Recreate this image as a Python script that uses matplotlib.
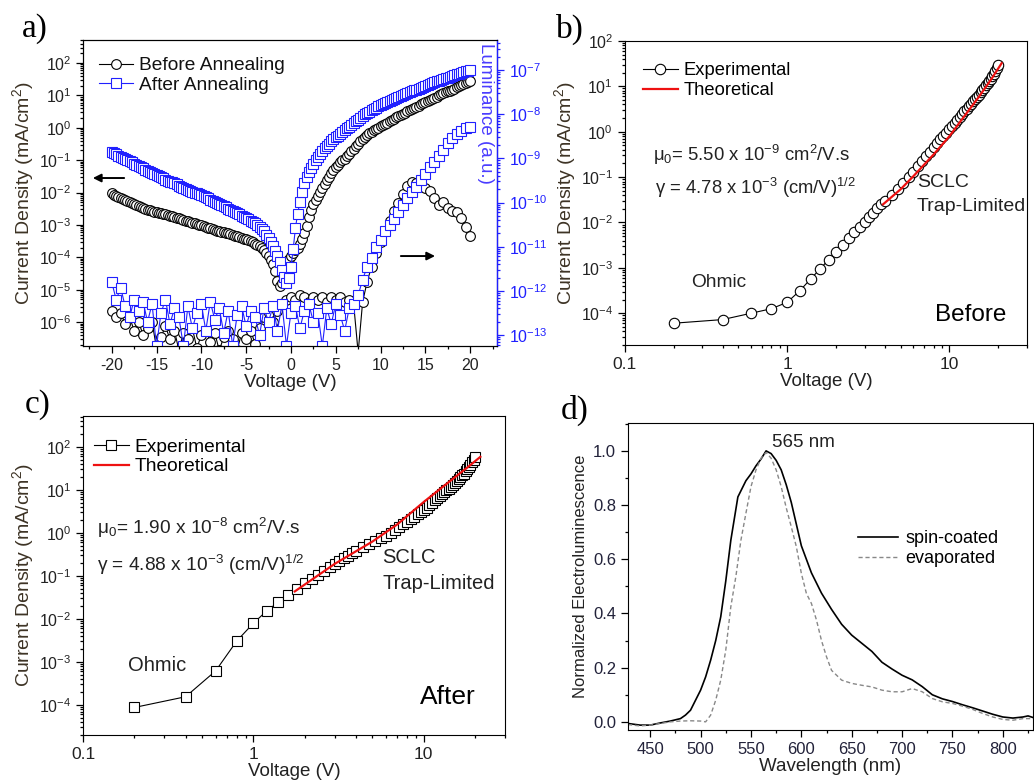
import numpy as np
import matplotlib
matplotlib.use('Agg')
import matplotlib.pyplot as plt
from matplotlib.ticker import LogLocator, MultipleLocator, NullFormatter

plt.rcParams['font.family'] = ['Liberation Sans', 'DejaVu Sans']
plt.rcParams['mathtext.fontset'] = 'custom'
plt.rcParams['mathtext.rm'] = 'Liberation Sans'
plt.rcParams['mathtext.it'] = 'Liberation Sans:italic'
plt.rcParams['mathtext.bf'] = 'Liberation Sans:bold'
plt.rcParams['axes.unicode_minus'] = False

BLUE = '#2020ff'
TXT = '#222222'
YLAB = '#3d3325'

# ---------------- panel a data (log10 values) ----------------
V_aJ = np.linspace(-20, 20, 161)
logJ_before = [-2.03, -2.07, -2.10, -2.14, -2.17, -2.20, -2.23, -2.26, -2.29, -2.32,
               -2.35, -2.38, -2.41, -2.44, -2.47, -2.50, -2.53, -2.55, -2.57, -2.59, -2.61,
               -2.63, -2.64, -2.66, -2.67, -2.69, -2.71, -2.73, -2.75, -2.78, -2.80,
               -2.82, -2.84, -2.87, -2.89, -2.91, -2.93, -2.95, -2.97, -2.99, -3.01,
               -3.04, -3.06, -3.09, -3.11, -3.14, -3.16, -3.18, -3.19, -3.21, -3.22,
               -3.24, -3.26, -3.28, -3.30, -3.33, -3.35, -3.38, -3.40, -3.43, -3.45,
               -3.48, -3.51, -3.54, -3.58, -3.62, -3.66, -3.72, -3.79, -3.87, -3.97,
               -4.07, -4.20, -4.42, -4.72, -4.88, -4.80, -4.45, -4.20, -4.05, -3.95,
               -3.86, -3.78, -3.70, -3.60, -3.45, -3.25, -3.02, -2.75, -2.53, -2.35,
               -2.22, -2.10, -1.97, -1.85, -1.73, -1.62, -1.51, -1.40, -1.31, -1.22,
               -1.14, -1.07, -1.01, -0.95, -0.88, -0.80, -0.72, -0.65, -0.57, -0.50,
               -0.42, -0.35, -0.28, -0.22, -0.17, -0.12, -0.08, -0.04, 0.00, 0.04,
               0.08, 0.12, 0.16, 0.20, 0.24, 0.28, 0.32, 0.36, 0.40, 0.44,
               0.47, 0.51, 0.54, 0.58, 0.61, 0.65, 0.68, 0.72, 0.75, 0.79,
               0.82, 0.86, 0.89, 0.93, 0.96, 1.00, 1.03, 1.06, 1.09, 1.12,
               1.15, 1.18, 1.21, 1.25, 1.28, 1.32, 1.35, 1.39, 1.42, 1.45]
logJ_after = [-0.74, -0.78, -0.82, -0.86, -0.90, -0.93, -0.97, -1.00, -1.04, -1.07,
              -1.11, -1.14, -1.18, -1.21, -1.25, -1.29, -1.33, -1.36, -1.40, -1.43, -1.47,
              -1.50, -1.53, -1.56, -1.60, -1.63, -1.66, -1.69, -1.72, -1.75, -1.79,
              -1.82, -1.85, -1.88, -1.91, -1.94, -1.97, -2.00, -2.03, -2.06, -2.09,
              -2.12, -2.15, -2.18, -2.22, -2.25, -2.29, -2.32, -2.36, -2.39, -2.43,
              -2.46, -2.50, -2.53, -2.57, -2.60, -2.64, -2.67, -2.71, -2.75, -2.79,
              -2.83, -2.87, -2.91, -2.95, -3.00, -3.05, -3.12, -3.20, -3.30, -3.40,
              -3.52, -3.65, -3.80, -3.95, -4.15, -4.40, -4.62, -4.80, -4.65, -4.30,
              -3.75, -3.10, -2.65, -2.30, -1.98, -1.72, -1.53, -1.38, -1.24, -1.12,
              -1.01, -0.90, -0.81, -0.72, -0.64, -0.56, -0.49, -0.42, -0.36, -0.30,
              -0.24, -0.18, -0.13, -0.08, -0.02, 0.03, 0.09, 0.14, 0.20, 0.25,
              0.31, 0.36, 0.41, 0.45, 0.50, 0.54, 0.58, 0.62, 0.66, 0.69,
              0.73, 0.76, 0.79, 0.82, 0.85, 0.88, 0.92, 0.95, 0.98, 1.01,
              1.04, 1.07, 1.10, 1.13, 1.16, 1.18, 1.21, 1.24, 1.27, 1.29,
              1.32, 1.35, 1.38, 1.40, 1.43, 1.45, 1.48, 1.50, 1.53, 1.55,
              1.58, 1.60, 1.63, 1.65, 1.67, 1.69, 1.72, 1.74, 1.76, 1.78]
V_aL = np.linspace(-20, 20, 81)
logL_before = [-12.45, -12.60, -12.50, -12.75, -12.60, -12.90, -12.70, -13.00, -12.85, -12.70,
               -13.30, -13.05, -12.80, -13.10, -12.90, -13.35, -12.95, -13.10, -12.85, -13.30,
               -13.00, -12.90, -13.15, -12.95, -13.35, -13.05, -12.90, -13.10, -13.35, -12.95,
               -13.10, -12.90, -13.20, -12.85, -12.60, -12.50, -12.70, -12.45, -12.30, -12.20,
               -12.15, -12.20, -12.10, -12.15, -12.25, -12.15, -12.20, -12.15, -12.25, -12.15,
               -12.20, -12.15, -12.25, -12.20, -12.30, -13.40,
               -12.25, -11.80, -11.45, -11.15, -10.90, -10.65, -10.42, -10.20, -10.00, -9.80,
               -9.62, -9.53, -9.55, -9.60, -9.68, -9.75, -9.90, -10.05, -9.98, -10.12,
               -10.20, -10.22, -10.35, -10.55, -10.75]
logL_after = [-11.80, -12.20, -11.93, -12.35, -12.60, -12.20, -12.45, -12.25, -12.70, -12.30,
              -13.25, -12.50, -12.20, -12.75, -12.40, -12.60, -13.25, -12.35, -12.85, -12.50,
              -12.30, -12.90, -12.25, -12.65, -12.40, -12.95, -12.45, -13.25, -12.55, -12.35,
              -12.80, -12.45, -12.60, -13.00, -12.40, -12.70, -12.35, -12.90, -12.30, -13.25,
              -12.50, -12.35, -12.85, -12.45, -12.30, -12.70, -12.50, -13.25, -12.40, -12.75,
              -12.30, -12.55, -12.90, -12.40,
              -12.30, -12.10, -11.75, -11.45, -11.25, -11.00, -10.85, -10.65, -10.50, -10.38,
              -10.22, -10.05, -9.90, -9.77, -9.64, -9.50, -9.35, -9.20, -9.08, -8.95,
              -8.80, -8.65, -8.55, -8.45, -8.38, -8.32, -8.28]

# ---------------- panel b data ----------------
V_b = np.concatenate([np.linspace(0.2, 3.8, 19), np.linspace(4.0, 20.0, 41)])
logJ_b = [-4.22, -4.14, -4.00, -3.90, -3.76, -3.50, -3.24, -3.02, -2.82, -2.65,
          -2.50, -2.35, -2.21, -2.10, -1.99, -1.88, -1.78, -1.69, -1.60,
          -1.52, -1.39, -1.26, -1.13, -1.00, -0.88, -0.76, -0.65, -0.54, -0.44,
          -0.34, -0.25, -0.17, -0.09, -0.02, 0.05, 0.12, 0.19, 0.26, 0.33,
          0.39, 0.45, 0.50, 0.56, 0.61, 0.67, 0.72, 0.77, 0.82, 0.87,
          0.92, 0.97, 1.02, 1.07, 1.12, 1.17, 1.22, 1.28, 1.34, 1.40,
          1.47]
V_b_th = [3.9, 5, 6, 8, 10, 12, 15, 18, 21]
logJ_b_th = [-1.60, -1.27, -0.98, -0.50, -0.10, 0.28, 0.74, 1.14, 1.51]

# ---------------- panel c data ----------------
V_c = np.concatenate([np.linspace(0.2, 4.0, 20), np.linspace(4.4, 20.0, 40)])
logJ_c = [-4.06, -3.81, -3.21, -2.51, -2.10, -1.81, -1.61, -1.44, -1.30, -1.17,
          -1.06, -0.97, -0.88, -0.80, -0.72, -0.65, -0.59, -0.53, -0.47, -0.42,
          -0.33, -0.25, -0.18, -0.12, -0.06, 0.00, 0.07, 0.13, 0.20, 0.26,
          0.32, 0.38, 0.43, 0.48, 0.53, 0.59, 0.65, 0.70, 0.76, 0.81,
          0.86, 0.91, 0.95, 0.99, 1.03, 1.08, 1.12, 1.16, 1.20, 1.25,
          1.29, 1.34, 1.38, 1.43, 1.48, 1.53, 1.58, 1.64, 1.70, 1.77]
V_c_th = [1.75, 3, 5, 7, 10, 14, 18, 21.5]
logJ_c_th = [-1.36, -0.72, -0.20, 0.20, 0.72, 1.18, 1.52, 1.77]

# ---------------- panel d data ----------------
lam_spin = [428, 440, 450, 460, 470, 480, 485, 490, 495, 500,
            505, 510, 515, 520, 525, 530, 537, 545, 550, 555,
            560, 565, 570, 575, 580, 585, 590, 595, 600, 610,
            620, 630, 640, 650, 660, 670, 680, 690, 700, 710,
            720, 730, 740, 750, 760, 770, 780, 790, 800, 810,
            820, 825, 830]
el_spin = [-0.006, -0.012, -0.012, -0.004, 0.003, 0.012, 0.025, 0.043, 0.08, 0.117,
           0.166, 0.228, 0.30, 0.388, 0.52, 0.67, 0.83, 0.89, 0.915, 0.945,
           0.97, 1.0, 0.99, 0.965, 0.93, 0.875, 0.81, 0.73, 0.65, 0.55,
           0.475, 0.415, 0.36, 0.32, 0.29, 0.26, 0.22, 0.195, 0.172, 0.155,
           0.13, 0.10, 0.085, 0.075, 0.063, 0.052, 0.04, 0.028, 0.018, 0.014,
           0.018, 0.022, 0.016]
lam_evap = [428, 440, 450, 460, 470, 480, 490, 500, 505, 510,
            515, 520, 525, 530, 535, 540, 545, 550, 555, 560,
            565, 570, 575, 580, 585, 590, 595, 600, 605, 610,
            615, 620, 625, 630, 640, 650, 660, 670, 680, 690,
            700, 710, 720, 730, 740, 750, 760, 770, 780, 790,
            800, 810, 820, 830]
el_evap = [-0.010, -0.015, -0.012, -0.006, 0.0, 0.003, 0.004, 0.003, 0.0, 0.025,
           0.08, 0.154, 0.265, 0.425, 0.536, 0.67, 0.77, 0.868, 0.93, 0.973,
           0.994, 0.973, 0.93, 0.868, 0.79, 0.72, 0.647, 0.548, 0.474, 0.437,
           0.376, 0.30, 0.24, 0.19, 0.154, 0.142, 0.135, 0.129, 0.117, 0.111,
           0.111, 0.123, 0.111, 0.086, 0.074, 0.068, 0.058, 0.046, 0.031, 0.018,
           0.009, 0.006, 0.012, 0.012]

fig = plt.figure(figsize=(10.34, 7.83), dpi=100)

TICK_FS = 11.5
LAB_FS = 13.5
YLAB_FS = 14


def style_ticks(ax, color=TXT, size=TICK_FS):
    ax.tick_params(which='both', direction='out', colors='black', labelcolor=color,
                   labelsize=size, width=0.9)
    ax.tick_params(which='major', length=5)
    ax.tick_params(which='minor', length=2.5)


def log_y(ax, numticks=20):
    ax.set_yscale('log')
    ax.yaxis.set_major_locator(LogLocator(base=10, numticks=numticks))
    ax.yaxis.set_minor_locator(LogLocator(base=10, subs=np.arange(2, 10), numticks=numticks))
    ax.yaxis.set_minor_formatter(NullFormatter())


def log_x(ax):
    ax.set_xscale('log')
    ax.xaxis.set_major_locator(LogLocator(base=10, numticks=10))
    ax.xaxis.set_minor_locator(LogLocator(base=10, subs=np.arange(2, 10), numticks=10))
    ax.xaxis.set_minor_formatter(NullFormatter())
    ax.xaxis.set_major_formatter(plt.FuncFormatter(lambda v, p: '%g' % v))


# ================= panel a =================
axA = fig.add_axes([0.0803, 0.5581, 0.4004, 0.3908])
axA.plot(V_aJ, 10 ** np.array(logJ_before), '-o', color='black', mfc='white', ms=7,
         mew=0.8, lw=0.8, label='Before Annealing')
axA.plot(V_aJ, 10 ** np.array(logJ_after), '-s', color=BLUE, mfc='white', ms=7,
         mew=0.8, lw=0.8, label='After Annealing')
log_y(axA)
axA.set_ylim(10 ** -6.74, 10 ** 2.71)
axA.set_xlim(-23.2, 23.0)
axA.xaxis.set_major_locator(MultipleLocator(5))
axA.xaxis.set_minor_locator(MultipleLocator(2.5))
style_ticks(axA)
axA.tick_params(axis='y', which='both', right=False)
axA.set_xlabel('Voltage (V)', fontsize=LAB_FS, color=TXT, labelpad=1)
axA.set_ylabel('Current Density (mA/cm$^2$)', fontsize=YLAB_FS, color=YLAB, labelpad=2)
leg = axA.legend(loc='upper left', bbox_to_anchor=(0.038, 0.945), frameon=False,
                 fontsize=13.8, handlelength=1.8, handletextpad=0.3, labelspacing=0.12,
                 borderaxespad=0, borderpad=0)
for t in leg.get_texts():
    t.set_color('#111111')
axA.annotate('', xy=(0.017, 0.549), xytext=(0.106, 0.549), xycoords='axes fraction',
             arrowprops=dict(arrowstyle='-|>', color='black', lw=1.4, mutation_scale=12))
axA.annotate('', xy=(0.857, 0.294), xytext=(0.761, 0.294), xycoords='axes fraction',
             arrowprops=dict(arrowstyle='-|>', color='black', lw=1.4, mutation_scale=12))

axL = axA.twinx()
axL.plot(V_aL, 10 ** np.array(logL_before), '-o', color='black', mfc='white', ms=7,
         mew=0.8, lw=0.8)
axL.plot(V_aL, 10 ** np.array(logL_after), '-s', color=BLUE, mfc='white', ms=7,
         mew=0.8, lw=0.8)
log_y(axL)
axL.set_ylim(10 ** -13.25, 10 ** -6.32)
axL.tick_params(which='both', direction='out', colors=BLUE, labelcolor=BLUE,
                labelsize=TICK_FS, width=0.9)
axL.tick_params(which='major', length=5)
axL.tick_params(which='minor', length=2.5)
axL.spines['right'].set_color(BLUE)
axL.spines['right'].set_linewidth(1.0)
axA.text(0.973, 0.76, 'Luminance (a.u.)', rotation=270, transform=axA.transAxes,
         ha='center', va='center', color='#4a3cff', fontsize=13.5)

# ================= panel b =================
axB = fig.add_axes([0.6044, 0.5594, 0.3888, 0.3882])
axB.plot(V_b, 10 ** np.array(logJ_b), '-o', color='black', mfc='white', ms=7.5,
         mew=0.8, lw=0.8, label='Experimental')
axB.plot(V_b_th, 10 ** np.array(logJ_b_th), '-', color='#ee1111', lw=1.6, label='Theoretical')
log_x(axB)
log_y(axB)
axB.set_xlim(0.1, 30.1)
axB.set_ylim(10 ** -4.7, 100)
style_ticks(axB)
axB.tick_params(axis='x', labelsize=12.5)
axB.set_xlabel('Voltage (V)', fontsize=LAB_FS, color=TXT, labelpad=1)
axB.set_ylabel('Current Density (mA/cm$^2$)', fontsize=YLAB_FS, color=YLAB, labelpad=2)
axB.legend(loc='upper left', bbox_to_anchor=(0.045, 0.93), frameon=False, fontsize=13.2,
           handlelength=1.9, handletextpad=0.3, labelspacing=0.15, borderaxespad=0, borderpad=0)
axB.text(0.07, 0.625, '\u03bc$_0$= 5.50 x 10$^{-9}$ cm$^2$/V.s', transform=axB.transAxes,
         fontsize=13.3, ha='left', va='center', color=TXT)
axB.text(0.075, 0.516, '\u03b3 = 4.78 x 10$^{-3}$ (cm/V)$^{1/2}$', transform=axB.transAxes,
         fontsize=13.3, ha='left', va='center', color=TXT)
axB.text(0.726, 0.533, 'SCLC', transform=axB.transAxes, fontsize=14, ha='left', va='center', color=TXT)
axB.text(0.726, 0.454, 'Trap-Limited', transform=axB.transAxes, fontsize=14, ha='left', va='center', color=TXT)
axB.text(0.164, 0.204, 'Ohmic', transform=axB.transAxes, fontsize=13.8, ha='left', va='center', color=TXT)
axB.text(0.771, 0.099, 'Before', transform=axB.transAxes, fontsize=17.5, ha='left', va='center', color='black')

# ================= panel c =================
axC = fig.add_axes([0.0803, 0.0613, 0.4081, 0.4074])
axC.plot(V_c, 10 ** np.array(logJ_c), '-s', color='black', mfc='white', ms=7.5,
         mew=0.8, lw=0.8, label='Experimental')
axC.plot(V_c_th, 10 ** np.array(logJ_c_th), '-', color='#ee1111', lw=1.6, label='Theoretical')
log_x(axC)
log_y(axC)
axC.set_xlim(0.1, 30.0)
axC.set_ylim(10 ** -4.7, 10 ** 2.72)
style_ticks(axC)
axC.tick_params(axis='x', labelsize=12.5)
axC.set_xlabel('Voltage (V)', fontsize=LAB_FS, color=TXT, labelpad=1)
axC.set_ylabel('Current Density (mA/cm$^2$)', fontsize=YLAB_FS, color=YLAB, labelpad=2)
axC.legend(loc='upper left', bbox_to_anchor=(0.026, 0.93), frameon=False, fontsize=13.8,
           handlelength=1.8, handletextpad=0.3, labelspacing=0.12, borderaxespad=0, borderpad=0)
axC.text(0.033, 0.649, '\u03bc$_0$= 1.90 x 10$^{-8}$ cm$^2$/V.s', transform=axC.transAxes,
         fontsize=13.8, ha='left', va='center', color=TXT)
axC.text(0.033, 0.533, '\u03b3 = 4.88 x 10$^{-3}$ (cm/V)$^{1/2}$', transform=axC.transAxes,
         fontsize=13.8, ha='left', va='center', color=TXT)
axC.text(0.709, 0.555, 'SCLC', transform=axC.transAxes, fontsize=14.5, ha='left', va='center', color=TXT)
axC.text(0.709, 0.476, 'Trap-Limited', transform=axC.transAxes, fontsize=14.5, ha='left', va='center', color=TXT)
axC.text(0.107, 0.219, 'Ohmic', transform=axC.transAxes, fontsize=14.5, ha='left', va='center', color=TXT)
axC.text(0.799, 0.119, 'After', transform=axC.transAxes, fontsize=19, ha='left', va='center', color='black')

# ================= panel d =================
axD = fig.add_axes([0.6074, 0.0677, 0.3917, 0.3921])
axD.plot(lam_spin, el_spin, '-', color='black', lw=1.2, label='spin-coated')
axD.plot(lam_evap, el_evap, '--', color='#888888', lw=1.0, dashes=(3, 2), label='evaporated')
axD.set_xlim(428, 830)
axD.set_ylim(-0.03, 1.103)
axD.xaxis.set_major_locator(MultipleLocator(50))
axD.xaxis.set_minor_locator(MultipleLocator(25))
axD.yaxis.set_major_locator(MultipleLocator(0.2))
axD.yaxis.set_minor_locator(MultipleLocator(0.1))
axD.yaxis.set_major_formatter(plt.FuncFormatter(lambda v, p: '%.1f' % v))
style_ticks(axD, color='#22223a', size=12)
axD.set_xlabel('Wavelength (nm)', fontsize=LAB_FS, color=TXT, labelpad=1)
axD.set_ylabel('Normalized Electroluminescence', fontsize=12, color=TXT, labelpad=4)
axD.legend(loc='upper left', bbox_to_anchor=(0.568, 0.65), frameon=False, fontsize=13,
           handlelength=2.2, handletextpad=0.4, labelspacing=0.15, borderaxespad=0, borderpad=0)
axD.text(0.432, 0.938, '565 nm', transform=axD.transAxes, fontsize=13.5, ha='center',
         va='center', color=TXT)

# panel letters
for lab, x, y in [('a)', 0.034, 0.964), ('b)', 0.551, 0.962), ('c)', 0.036, 0.483), ('d)', 0.556, 0.476)]:
    fig.text(x, y, lab, fontsize=24, family=['Liberation Serif', 'DejaVu Serif'],
             ha='center', va='center', color='black')

fig.savefig('out.png', dpi=100)
